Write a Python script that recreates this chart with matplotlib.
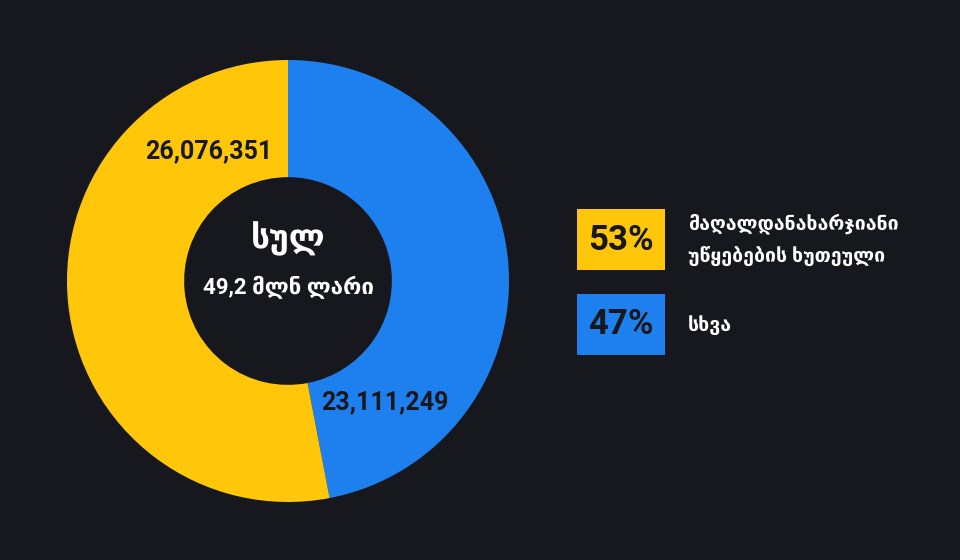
import matplotlib
matplotlib.use("Agg")
import matplotlib.pyplot as plt
from matplotlib.patches import Rectangle

# data
labels = ["სხვა", "მაღალდანახარჯიანი\nუწყებების ხუთეული"]
values = [23111249, 26076351]
colors = ["#1E80EE", "#FFC60A"]
total_label = "სულ"
unit_label = "მლნ ლარი"

bg = "#17181E"
dark = "#17181E"
plt.rcParams['font.family'] = ['Roboto', 'DejaVu Sans']
plt.rcParams['font.weight'] = 'bold'

fig = plt.figure(figsize=(9.6, 5.6), dpi=100, facecolor=bg)

# donut
W, H = 960, 560
cx, cy, r = 288, 281, 221
ax = fig.add_axes([(cx - r) / W, (H - cy - r) / H, 2 * r / W, 2 * r / H])
ax.set_facecolor(bg)
ax.pie(values, colors=colors, startangle=90, counterclock=False, radius=1,
       wedgeprops=dict(width=0.53, linewidth=0))
ax.set_xlim(-1, 1)
ax.set_ylim(-1, 1)
ax.set_aspect('equal')
ax.axis('off')

# value labels
ax.text(-0.36, 0.585, f"{values[1]:,}", ha='center', va='center',
        fontsize=18, color=dark)
ax.text(0.44, -0.55, f"{values[0]:,}", ha='center', va='center',
        fontsize=18, color=dark)

total = sum(values)
ax.text(0, 0.19, total_label, ha='center', va='center', fontsize=24, color='white')
ax.text(0, -0.03, f"{total / 1e6:.1f}".replace('.', ',') + " " + unit_label,
        ha='center', va='center', fontsize=16, color='white')

# legend in pixel coords
lax = fig.add_axes([0, 0, 1, 1])
lax.set_xlim(0, W)
lax.set_ylim(H, 0)
lax.axis('off')
box_y = [294, 209]
for i in [1, 0]:
    pct = round(values[i] / total * 100)
    y0 = box_y[i]
    lax.add_patch(Rectangle((577, y0), 88, 61, color=colors[i], lw=0))
    lax.text(621, y0 + 31, f"{pct}%", ha='center', va='center',
             fontsize=25, color=dark)
    lax.text(688, y0 + 31, labels[i], ha='left', va='center',
             fontsize=14, color='white', linespacing=1.85)

fig.savefig("out.png", dpi=100, facecolor=bg)
